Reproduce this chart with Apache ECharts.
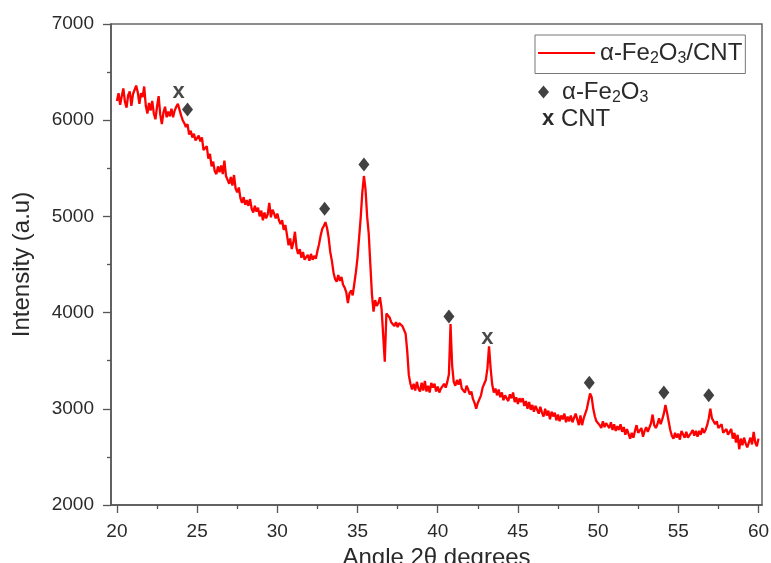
<!DOCTYPE html>
<html>
<head>
<meta charset="utf-8">
<script src="https://cdn.jsdelivr.net/npm/echarts@6/dist/echarts.min.js"></script>
<style>
  html, body { margin: 0; padding: 0; background: #ffffff; }
  #chart { width: 771px; height: 563px; }
</style>
</head>
<body>
<div id="chart"></div>
<script>
// XRD scan of the α-Fe2O3/CNT composite: 2θ from 20° to 60°, step 0.1°
const scanStart = 20.0;
const scanStep = 0.1;
const intensity = [
  6200,
  6280, 6160, 6250, 6330, 6190, 6130, 6260, 6300, 6150, 6270,
  6250, 6360, 6290, 6170, 6280, 6240, 6350, 6150, 6070, 6180,
  6100, 6200, 6070, 6010, 6140, 6250, 6060, 5960, 6080, 6140,
  6030, 6090, 6040, 6120, 6030, 6100, 6140, 6170, 6110, 6050,
  6000, 5970, 5930, 5960, 5850, 5890, 5820, 5860, 5790, 5770,
  5840, 5780, 5820, 5690, 5680, 5730, 5600, 5650, 5520, 5570,
  5470, 5440, 5520, 5460, 5530, 5440, 5580, 5420, 5380, 5340,
  5410, 5320, 5430, 5290, 5250, 5300, 5190, 5140, 5200, 5120,
  5170, 5110, 5180, 5080, 5040, 5110, 5050, 5090, 5000, 5060,
  4960, 5040, 4980, 5020, 5140, 4990, 5070, 5030, 4980, 5030,
  4960, 4920, 4960, 4860, 4910, 4810, 4700, 4770, 4660, 4730,
  4840, 4670, 4610, 4660, 4570, 4630, 4550, 4540, 4600, 4540,
  4610, 4550, 4590, 4560, 4640, 4710, 4800, 4870, 4900, 4940,
  4880, 4780, 4630, 4540, 4420, 4350, 4320, 4390, 4330, 4370,
  4290, 4260, 4210, 4100, 4200, 4230, 4180, 4300, 4420, 4570,
  4780, 4990, 5250, 5420, 5280, 5000, 4820, 4500, 4190, 4010,
  4130, 4070, 4100, 4160, 4040, 4020, 3490, 3990, 3970, 3950,
  3900, 3910, 3860, 3900, 3850, 3890, 3900, 3860, 3840, 3780,
  3600, 3350, 3260, 3200, 3260, 3190, 3280, 3210, 3180, 3270,
  3190, 3290, 3180, 3240, 3170, 3270, 3220, 3260, 3180, 3230,
  3170, 3210, 3230, 3260, 3220, 3280, 3360, 3880, 3450, 3280,
  3240, 3300, 3250, 3310, 3210, 3200, 3170, 3240, 3200, 3150,
  3180, 3100, 3060, 3000, 3060, 3070, 3140, 3220, 3260, 3300,
  3420, 3650, 3420, 3250, 3170, 3210, 3140, 3200, 3120, 3170,
  3090, 3140, 3150, 3080, 3150, 3110, 3170, 3070, 3120, 3050,
  3110, 3070, 3110, 3030, 3080, 3000, 3070, 2990, 3040, 2970,
  3030, 2990, 2950, 3020, 2960, 2920, 3000, 2930, 2980, 2890,
  2970, 2920, 2960, 2880, 2940, 2870, 2930, 2890, 2950, 2860,
  2920, 2870, 2930, 2860, 2870, 2950, 2890, 2830, 2930, 2830,
  2900, 2910, 3000, 3080, 3160, 3120, 3000, 2920, 2870, 2850,
  2830, 2800, 2870, 2810, 2850, 2860, 2800, 2860, 2780, 2840,
  2770, 2820, 2780, 2840, 2760, 2810, 2730, 2790, 2740, 2690,
  2750, 2700, 2770, 2830, 2750, 2740, 2800, 2710, 2770, 2810,
  2760, 2740, 2850, 2940, 2830, 2800, 2840, 2900, 2840, 2890,
  2950, 3040, 2960, 2870, 2780, 2720, 2690, 2750, 2700, 2740,
  2680, 2770, 2750, 2700, 2760, 2700, 2690, 2750, 2780, 2720,
  2770, 2710, 2770, 2730, 2800, 2750, 2780, 2830, 2900, 3000,
  2900, 2870, 2840, 2870, 2800, 2790, 2840, 2750, 2730, 2790,
  2730, 2760, 2790, 2690, 2750, 2650, 2730, 2580, 2690, 2620,
  2700, 2640, 2600, 2580, 2700, 2630, 2760, 2650, 2610, 2690
];

// Reflection markers (angle, marker height)
const hematiteAngles = [24.4, 32.95, 35.4, 40.7, 49.45, 54.1, 56.9];
const hematiteMarkY  = [6110, 5080, 5540, 3960, 3270, 3170, 3140];
const cntAngles = [23.85, 43.1];
const cntMarkY  = [6290, 3740];

// Axis ranges and tick positions
const xRange = [19.63, 60.22];
const xMajorTicks = [20, 25, 30, 35, 40, 45, 50, 55, 60];
const xMinorTicks = [22.5, 27.5, 32.5, 37.5, 42.5, 47.5, 52.5, 57.5];
const yRange = [2000, 7000];
const yStep = 1000;

const compositeName = 'α-Fe2O3/CNT';
const hematiteName = 'α-Fe2O3';

const pattern = intensity.map((v, i) => [Number((scanStart + i * scanStep).toFixed(2)), v]);
const hematitePts = hematiteAngles.map((a, i) => [a, hematiteMarkY[i]]);
const cntPts = cntAngles.map((a, i) => [a, cntMarkY[i]]);

const FONT = 'Liberation Sans, Arial, sans-serif';
const TEXT = '#2a2a2a';
const AXIS = '#555555';

// Chemical formulas with subscript digits
function formula(name) {
  return name.replace(/(\d)/g, '{sub|$1}');
}
const richText = {
  sub: { fontSize: 16, padding: [11, 0, 0, 0], color: TEXT, fontFamily: FONT },
  pad: { width: 8 }
};

const chart = echarts.init(document.getElementById('chart'), null, { renderer: 'canvas' });

const tickLine = { color: AXIS, width: 1.3 };

chart.setOption({
  animation: false,
  backgroundColor: '#ffffff',
  textStyle: { fontFamily: FONT },
  grid: {
    left: 111, right: 9, top: 24, bottom: 58,
    outerBoundsMode: 'none',
    show: true, borderColor: '#666666', borderWidth: 1.5, backgroundColor: 'transparent'
  },
  legend: [
    {
      data: [compositeName],
      left: 535, top: 35,
      orient: 'vertical',
      borderColor: '#777777', borderWidth: 1, borderRadius: 0,
      padding: [6, 3, 7, 3],
      itemWidth: 57, itemHeight: 2,
      icon: 'rect',
      formatter: formula,
      textStyle: { fontSize: 24, color: TEXT, fontFamily: FONT, rich: richText }
    },
    {
      data: [hematiteName],
      left: 538, top: 80,
      orient: 'vertical',
      padding: 0,
      itemWidth: 11, itemHeight: 13,
      icon: 'diamond',
      formatter: name => '{pad|}' + formula(name),
      textStyle: { fontSize: 24, color: TEXT, fontFamily: FONT, rich: richText }
    }
  ],
  graphic: [
    {
      type: 'text',
      left: 542, top: 107,
      style: {
        text: '{b|x} CNT',
        fontSize: 24, fontFamily: FONT, fill: TEXT,
        rich: { b: { fontSize: 22, fontWeight: 'bold', fontFamily: FONT, color: '#111111' } }
      }
    }
  ],
  xAxis: [
    {
      type: 'value',
      min: xRange[0], max: xRange[1],
      name: 'Angle 2θ degrees',
      nameLocation: 'middle', nameGap: 31,
      nameTextStyle: { fontSize: 24, color: TEXT, fontFamily: FONT },
      axisLine: { show: true, onZero: false, lineStyle: { color: AXIS, width: 1.5 } },
      axisTick: { show: true, inside: false, length: 8, customValues: xMajorTicks, lineStyle: tickLine },
      splitLine: { show: false },
      axisLabel: { fontSize: 19, color: TEXT, margin: 17, fontFamily: FONT, customValues: xMajorTicks }
    },
    {
      // minor ticks only
      type: 'value',
      position: 'bottom',
      min: xRange[0], max: xRange[1],
      axisLine: { show: false },
      axisTick: { show: true, inside: false, length: 4, customValues: xMinorTicks, lineStyle: tickLine },
      axisLabel: { show: false },
      splitLine: { show: false }
    }
  ],
  yAxis: {
    type: 'value',
    min: yRange[0], max: yRange[1], interval: yStep,
    name: 'Intensity (a.u)',
    nameLocation: 'middle', nameGap: 77, nameRotate: 90,
    nameTextStyle: { fontSize: 24, color: TEXT, fontFamily: FONT },
    axisLine: { show: true, onZero: false, lineStyle: { color: AXIS, width: 1.5 } },
    axisTick: { show: true, inside: false, length: 8, lineStyle: tickLine },
    minorTick: { show: true, splitNumber: 2, length: 4, lineStyle: tickLine },
    splitLine: { show: false },
    axisLabel: { fontSize: 19, color: TEXT, margin: 17, fontFamily: FONT, formatter: v => String(v) }
  },
  series: [
    {
      name: compositeName,
      type: 'line',
      data: pattern,
      symbol: 'none',
      lineStyle: { color: '#ff0000', width: 2.3 },
      itemStyle: { color: '#ff0000' },
      z: 2
    },
    {
      name: hematiteName,
      type: 'scatter',
      data: hematitePts,
      symbol: 'diamond',
      symbolSize: [11, 14],
      itemStyle: { color: '#111111' },
      z: 3
    },
    {
      name: 'CNT',
      type: 'scatter',
      data: cntPts,
      symbol: 'circle',
      symbolSize: 1,
      itemStyle: { color: 'rgba(0,0,0,0)' },
      label: {
        show: true, position: 'inside', formatter: 'x',
        fontSize: 22, fontWeight: 'bold', color: '#1a1a1a', fontFamily: FONT
      },
      z: 3
    }
  ]
});
</script>
</body>
</html>
